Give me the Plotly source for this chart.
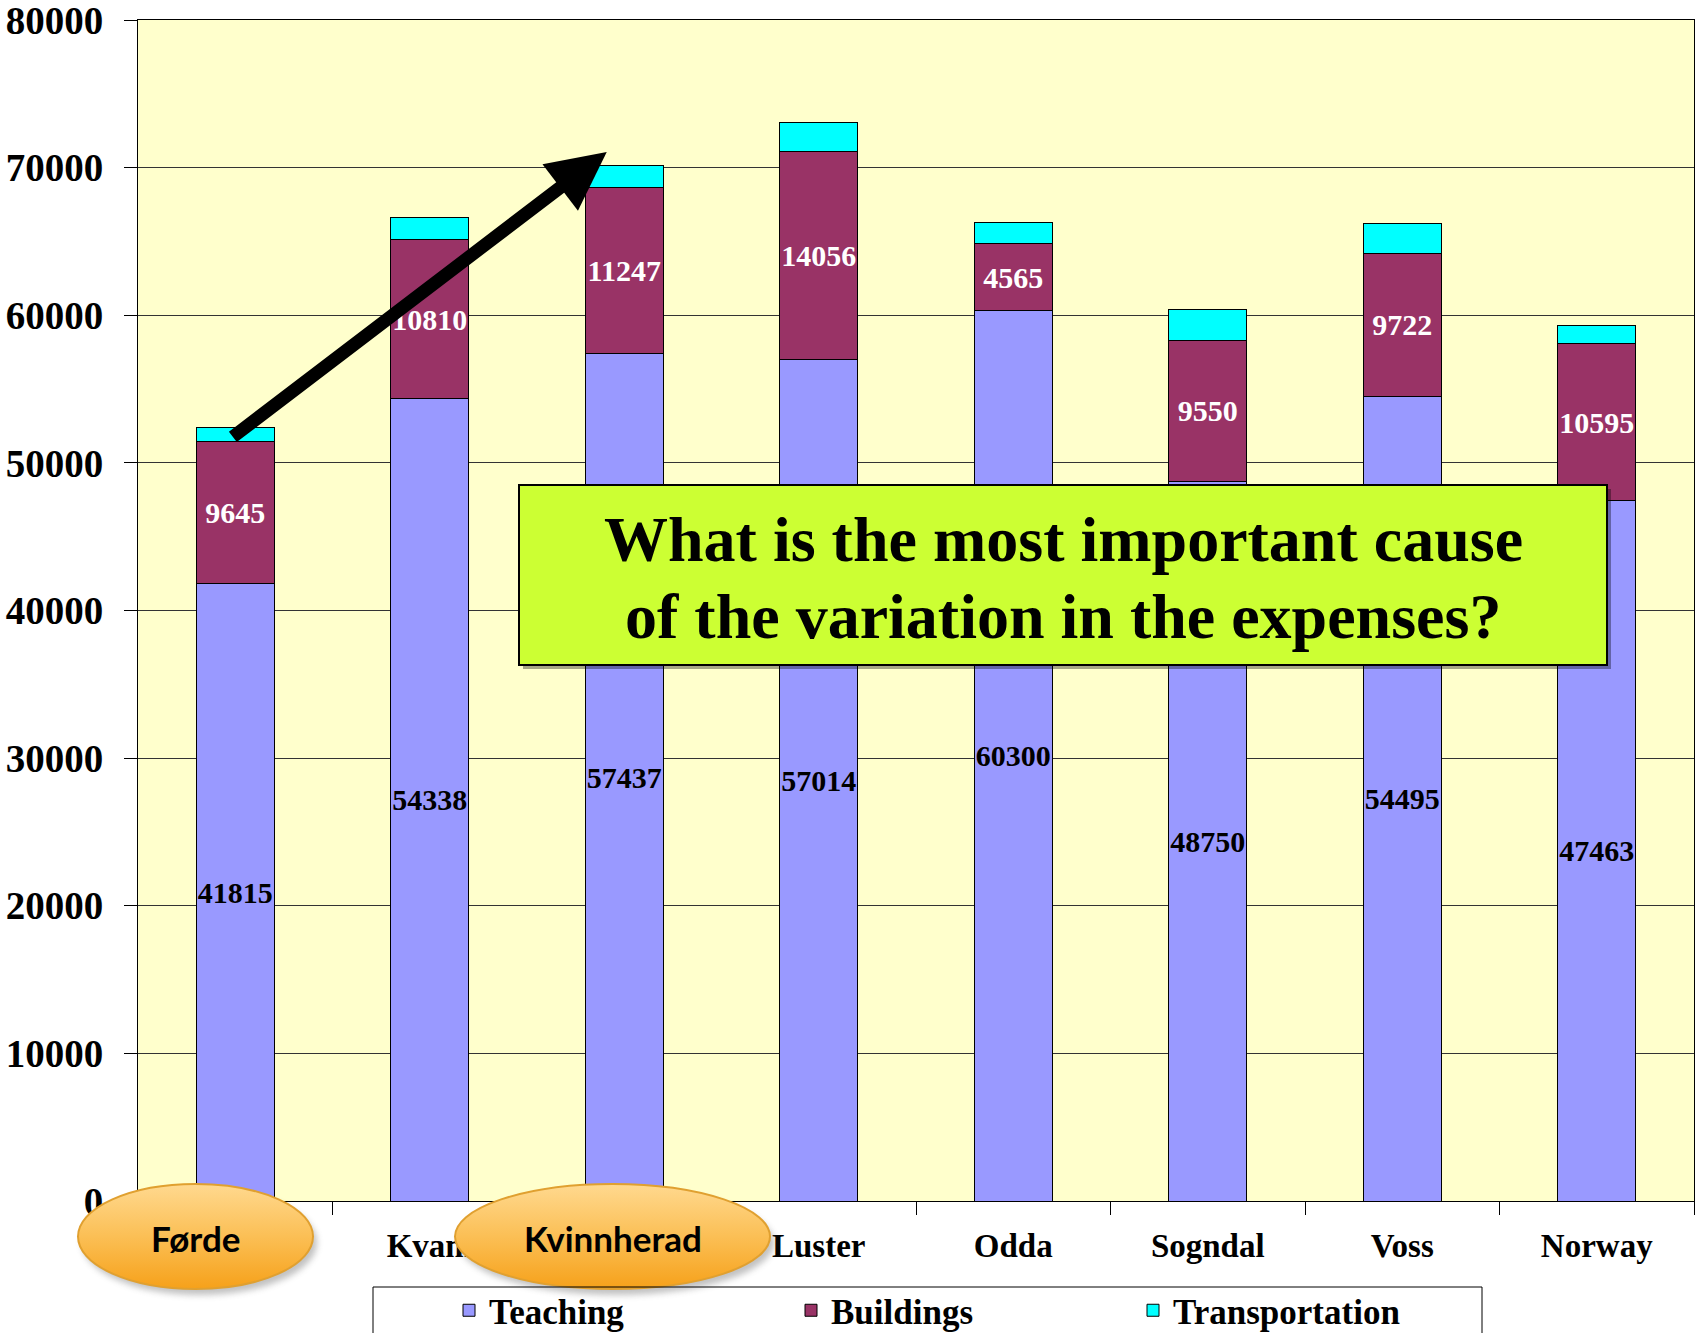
import base64
import plotly.graph_objects as go

categories = ["Førde", "Kvam", "Kvinnherad", "Luster", "Odda", "Sogndal", "Voss", "Norway"]
teaching = [41815, 54338, 57437, 57014, 60300, 48750, 54495, 47463]
buildings = [9645, 10810, 11247, 14056, 4565, 9550, 9722, 10595]
transportation = [970, 1470, 1460, 2020, 1390, 2070, 2030, 1280]
y_ticks = [0, 10000, 20000, 30000, 40000, 50000, 60000, 70000, 80000]
question_lines = ["What is the most important cause", "of the variation in the expenses?"]
highlighted = ["Førde", "Kvinnherad"]

W, H = 1701, 1333
L, R, T, B = 138, 7, 20, 132
PW, PH = W - L - R, H - T - B

def X(px):
    return (px - L) / PW

def Y(py):
    return (H - B - py) / PH

SERIF = "Liberation Serif, Times New Roman, serif"

fig = go.Figure()
fig.add_trace(go.Bar(
    x=categories, y=teaching, name="Teaching",
    marker=dict(color="#9999FF", line=dict(color="black", width=1)),
    text=[str(v) for v in teaching], textposition="inside", insidetextanchor="middle",
    textangle=0, constraintext="none",
    textfont=dict(family=SERIF, size=30, color="black", weight="bold"),
))
fig.add_trace(go.Bar(
    x=categories, y=buildings, name="Buildings",
    marker=dict(color="#993366", line=dict(color="black", width=1)),
    text=[str(v) for v in buildings], textposition="inside", insidetextanchor="middle",
    textangle=0, constraintext="none",
    textfont=dict(family=SERIF, size=30, color="white", weight="bold"),
))
fig.add_trace(go.Bar(
    x=categories, y=transportation, name="Transportation",
    marker=dict(color="#00FFFF", line=dict(color="black", width=1)),
))

def ellipse_svg(w, h):
    pad = 14
    svg = f'''<svg xmlns="http://www.w3.org/2000/svg" width="{w+pad}" height="{h+pad}" viewBox="0 0 {w+pad} {h+pad}">
<defs>
<linearGradient id="g" x1="0" y1="0" x2="0" y2="1">
<stop offset="0" stop-color="#FFD98F"/>
<stop offset="0.5" stop-color="#FBBF55"/>
<stop offset="1" stop-color="#F6A11A"/>
</linearGradient>
<filter id="f" x="-20%" y="-20%" width="140%" height="140%"><feGaussianBlur stdDeviation="3"/></filter>
</defs>
<ellipse cx="{w/2+5}" cy="{h/2+7}" rx="{w/2-2}" ry="{h/2-2}" fill="#777" opacity="0.45" filter="url(#f)"/>
<ellipse cx="{w/2+1}" cy="{h/2+1}" rx="{w/2-2}" ry="{h/2-2}" fill="url(#g)" stroke="#E0A030" stroke-width="2"/>
</svg>'''
    return "data:image/svg+xml;base64," + base64.b64encode(svg.encode()).decode(), pad

images = []
annotations = []
ovals = [(76, 315, 1182, 1291), (453, 772, 1182, 1291)]
for name, (x0, x1, y0, y1) in zip(highlighted, ovals):
    w, h = x1 - x0, y1 - y0
    src, pad = ellipse_svg(w, h)
    images.append(dict(source=src, xref="paper", yref="paper", x=X(x0 - 1), y=Y(y0 - 1),
                       sizex=(w + pad) / PW, sizey=(h + pad) / PH, xanchor="left", yanchor="top",
                       sizing="stretch", layer="above"))
    annotations.append(dict(text=name, xref="paper", yref="paper", x=X((x0 + x1) / 2), y=Y(1238),
                            showarrow=False, xanchor="center", yanchor="middle",
                            font=dict(family="Lato, Open Sans, sans-serif", size=35, color="black", weight="bold")))

# question box
shapes = [
    dict(type="rect", xref="paper", yref="paper", x0=X(523), x1=X(1611), y0=Y(489), y1=Y(669),
         fillcolor="rgba(0,0,0,0.35)", line=dict(width=0), layer="above"),
    dict(type="rect", xref="paper", yref="paper", x0=X(519), x1=X(1607), y0=Y(485), y1=Y(665),
         fillcolor="#CCFF33", line=dict(color="black", width=2), layer="above"),
    dict(type="rect", xref="paper", yref="paper", x0=X(373), x1=X(1482), y0=Y(1287), y1=Y(1345),
         fillcolor="rgba(0,0,0,0)", line=dict(color="black", width=1), layer="above"),
]
for line, cy in zip(question_lines, [539, 616]):
    annotations.append(dict(text=line, xref="paper", yref="paper", x=X(1063), y=Y(cy),
                            showarrow=False, xanchor="center", yanchor="middle",
                            font=dict(family=SERIF, size=64, color="black", weight="bold")))

# arrow
annotations.append(dict(x=1.91, y=71056, xref="x", yref="y", ax=-0.02, ay=51684, axref="x", ayref="y",
                        text="", showarrow=True, arrowhead=2, arrowsize=0.9, arrowwidth=13,
                        arrowcolor="black", standoff=0))

fig.update_layout(
    width=W, height=H,
    margin=dict(l=L, r=R, t=T, b=B, autoexpand=False),
    barmode="stack", bargap=0.6,
    paper_bgcolor="white", plot_bgcolor="#FFFFCC",
    showlegend=True,
    legend=dict(orientation="h", xref="container", yref="container", x=449 / W, y=1 - 1281 / H,
                xanchor="left", yanchor="top", traceorder="normal",
                font=dict(family=SERIF, size=35, color="black", weight="bold"),
                bgcolor="rgba(0,0,0,0)", borderwidth=0, entrywidth=297, entrywidthmode="pixels"),
    xaxis=dict(showline=True, linecolor="black", linewidth=1, mirror=True,
               ticks="outside", tickson="boundaries",
               ticklen=13, tickcolor="black", showgrid=False, ticklabelstandoff=15,
               tickfont=dict(family=SERIF, size=33, color="black", weight="bold")),
    yaxis=dict(range=[0, 80000], tickvals=y_ticks, ticktext=[str(v) for v in y_ticks],
               showline=True, linecolor="black", linewidth=1, mirror=True,
               ticks="outside", ticklen=13, tickcolor="black", ticklabelstandoff=13,
               ticklabeloverflow="allow",
               showgrid=True, gridcolor="#333333", gridwidth=1, zeroline=False,
               tickfont=dict(family=SERIF, size=39, color="black", weight="bold")),
    shapes=shapes, images=images, annotations=annotations,
)

fig.write_html("out.html", config={"displayModeBar": False},
               post_script="document.body.style.margin='0';document.body.style.overflow='hidden';")
